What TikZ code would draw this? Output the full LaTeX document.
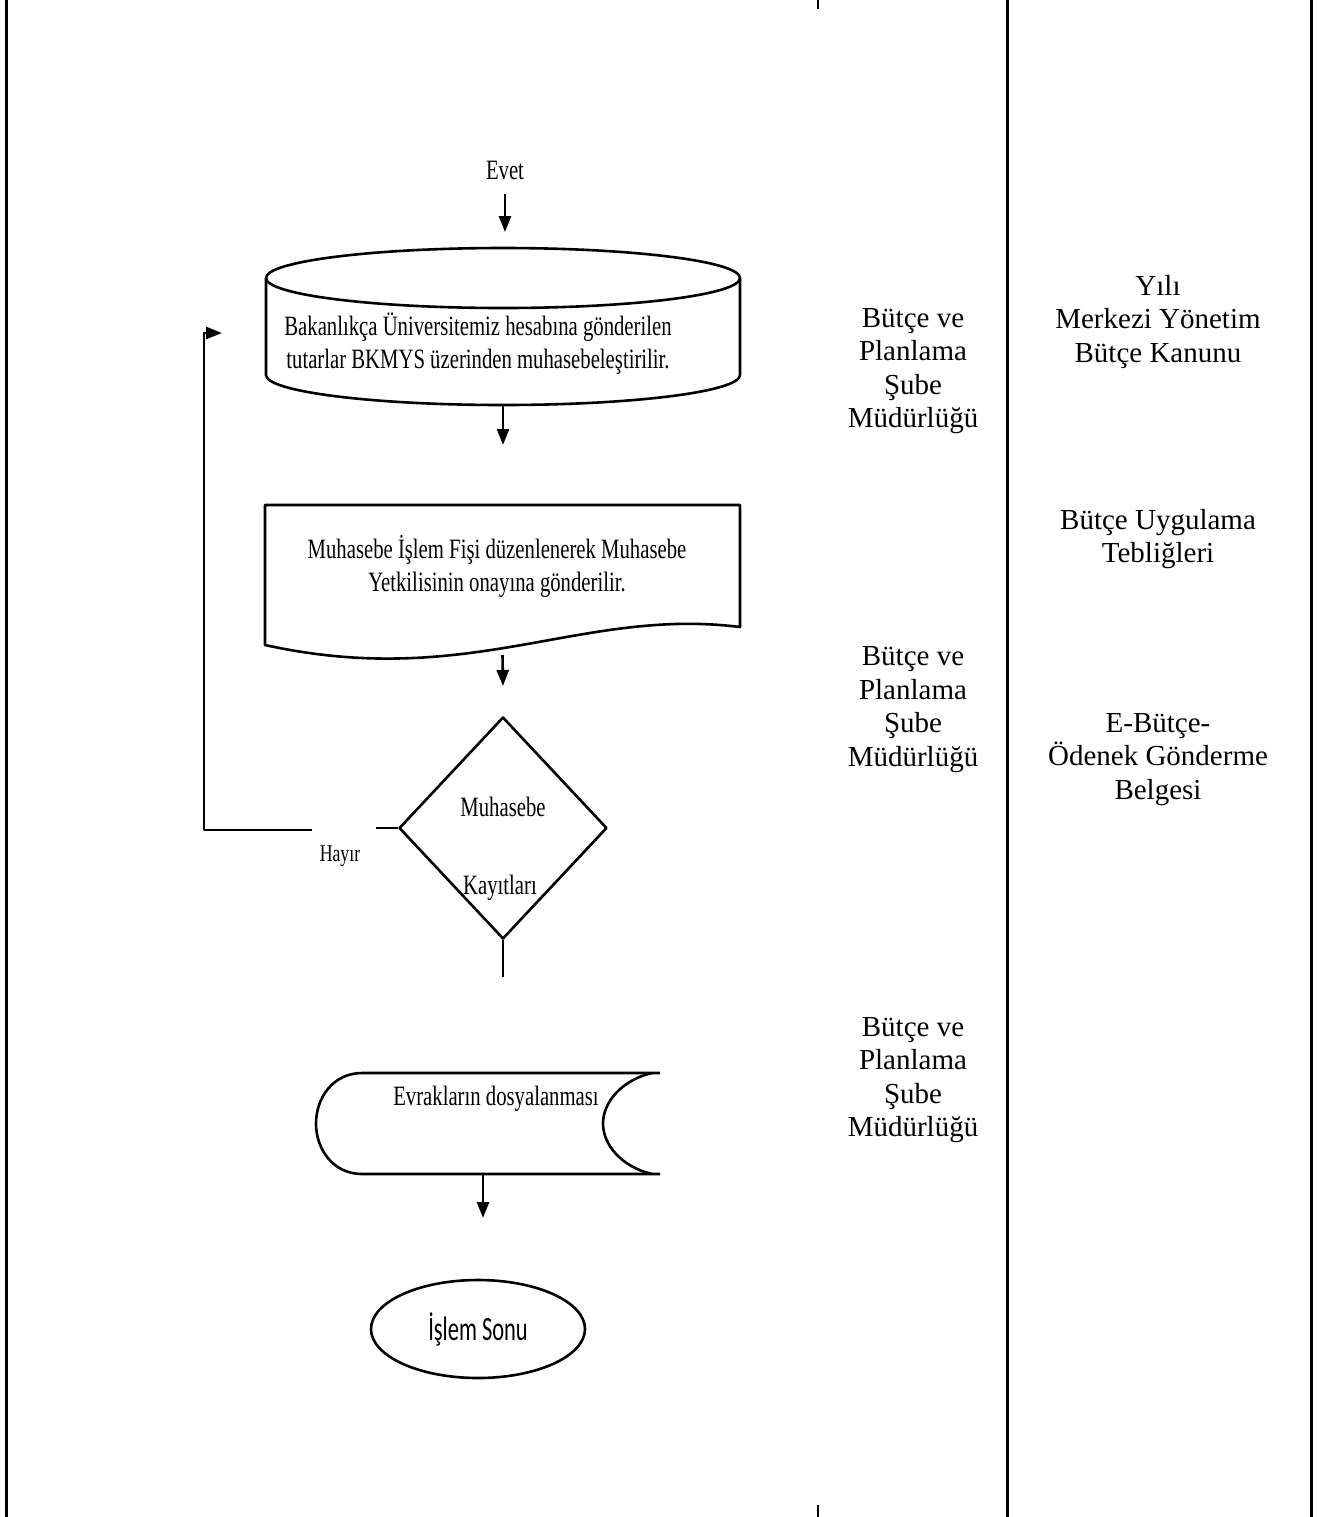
\documentclass[tikz,border=0pt]{standalone}
\usepackage{fontspec}
\setmainfont{Liberation Serif}
\newfontfamily\narrowfont[FakeStretch=0.74]{Liberation Serif}
\newfontfamily\calfont[FakeStretch=0.66]{Carlito}
\usetikzlibrary{shapes.geometric, arrows.meta}
\begin{document}
\begin{tikzpicture}[x=0.5pt, y=-0.5pt,
  fl/.style={line width=1.3pt, line join=round},
  arr/.style={fl, -{Triangle[length=8pt, width=6pt]}},
  tbl/.style={line width=1.5pt},
  ftxt/.style={font=\narrowfont\fontsize{14}{16.5}\selectfont, align=center, inner sep=0pt},
  rtxt/.style={font=\fontsize{14.5}{16.75}\selectfont, align=center, inner sep=0pt},
  hidden/.style={draw=none, inner sep=0pt, outer sep=0pt}
]
\useasboundingbox (0,0) rectangle (1332,1517);

% table rules
\draw[tbl] (6,0) -- (6,1517);
\draw[tbl] (1007,0) -- (1007,1517);
\draw[tbl] (1311,0) -- (1311,1517);
\draw[line width=1.2pt] (818,0) -- (818,9);
\draw[line width=1.2pt] (818,1505) -- (818,1517);

% Evet
\node[ftxt] (evet) at (505,170) {Evet};
\coordinate (evetend) at (505,232);
\draw[arr] ([yshift=-7pt]evet.south) -- (evetend);

% cylinder
\node[hidden, minimum width=237pt, minimum height=79pt] (cyl) at (503,326) {};
\draw[fl] (503,278) ellipse [x radius=118.5pt, y radius=15pt];
\draw[fl] (266,278) -- (266,375) arc[start angle=180, end angle=360, x radius=118.5pt, y radius=15pt] -- (740,278);
\node[ftxt] (cyltxt) at (478,344) {Bakanlıkça Üniversitemiz hesabına gönderilen\\ tutarlar BKMYS üzerinden muhasebeleştirilir.};
\coordinate (a2) at (503,445);
\draw[arr] (cyl.south) -- (a2);

% document
\node[hidden, minimum width=237.5pt, minimum height=75pt] (doc) at (502.5,580) {};
\draw[fl] (265,505) -- (740,505) -- (740,627) .. controls (580,607) and (470,690) .. (265,645) -- cycle;
\node[ftxt] (doctxt) at (497,566) {Muhasebe İşlem Fişi düzenlenerek Muhasebe\\Yetkilisinin onayına gönderilir.};
\coordinate (a3) at (503,686);
\draw[arr] (doc.south) -- (a3);

% decision
\node[draw, fl, diamond, minimum width=104pt, minimum height=111pt, inner sep=0pt] (dia) at (503,828) {};
\node[ftxt] (dt1) at (503,807) {Muhasebe};
\node[ftxt] (dt2) at (500,888) {Kayıtları};
\coordinate (stub) at (376,828);
\draw[fl] (dia.west) -- (stub);
\node[ftxt, font=\narrowfont\fontsize{12}{14}\selectfont] (hay) at (340,856) {Hayır};
\coordinate (l1) at (312,830);
\coordinate (l2) at (204,830);
\coordinate (l3) at (204,333);
\coordinate (l4) at (222,333);
\draw[arr] (l1) -- (l2) -- (l3) -- (l4);
\coordinate (dend) at (503,977);
\draw[fl] (dia.south) -- (dend);

% stored data
\node[hidden, minimum width=172pt, minimum height=50.5pt] (sto) at (488,1123.5) {};
\draw[fl] (660,1073) -- (362,1073) .. controls (333,1073) and (316,1098) .. (316,1123.5) .. controls (316,1149) and (333,1174) .. (362,1174) -- (660,1174);
\draw[fl] (652,1073) .. controls (622,1080) and (603,1102) .. (603,1123.5) .. controls (603,1145) and (622,1167) .. (652,1174);
\node[ftxt] (stotxt) at (496,1099) {Evrakların dosyalanması};
\coordinate (a5) at (483,1218);
\draw[arr] (sto.south -| a5) -- (a5);

% terminator
\node[draw, fl, ellipse, minimum width=107pt, minimum height=49pt, inner sep=0pt, font=\calfont\fontsize{17}{20}\selectfont] (end) at (478,1329) {İşlem Sonu};

% right columns
\node[rtxt] (r1) at (913,371) {Bütçe ve\\Planlama\\Şube\\Müdürlüğü};
\node[rtxt] (r2) at (913,709.5) {Bütçe ve\\Planlama\\Şube\\Müdürlüğü};
\node[rtxt] (r3) at (913,1080) {Bütçe ve\\Planlama\\Şube\\Müdürlüğü};
\node[rtxt] (k1) at (1158,322) {Yılı\\Merkezi Yönetim\\Bütçe Kanunu};
\node[rtxt] (k2) at (1158,539) {Bütçe Uygulama\\Tebliğleri};
\node[rtxt] (k3) at (1158,759.5) {E-Bütçe-\\Ödenek Gönderme\\Belgesi};
\end{tikzpicture}
\end{document}
